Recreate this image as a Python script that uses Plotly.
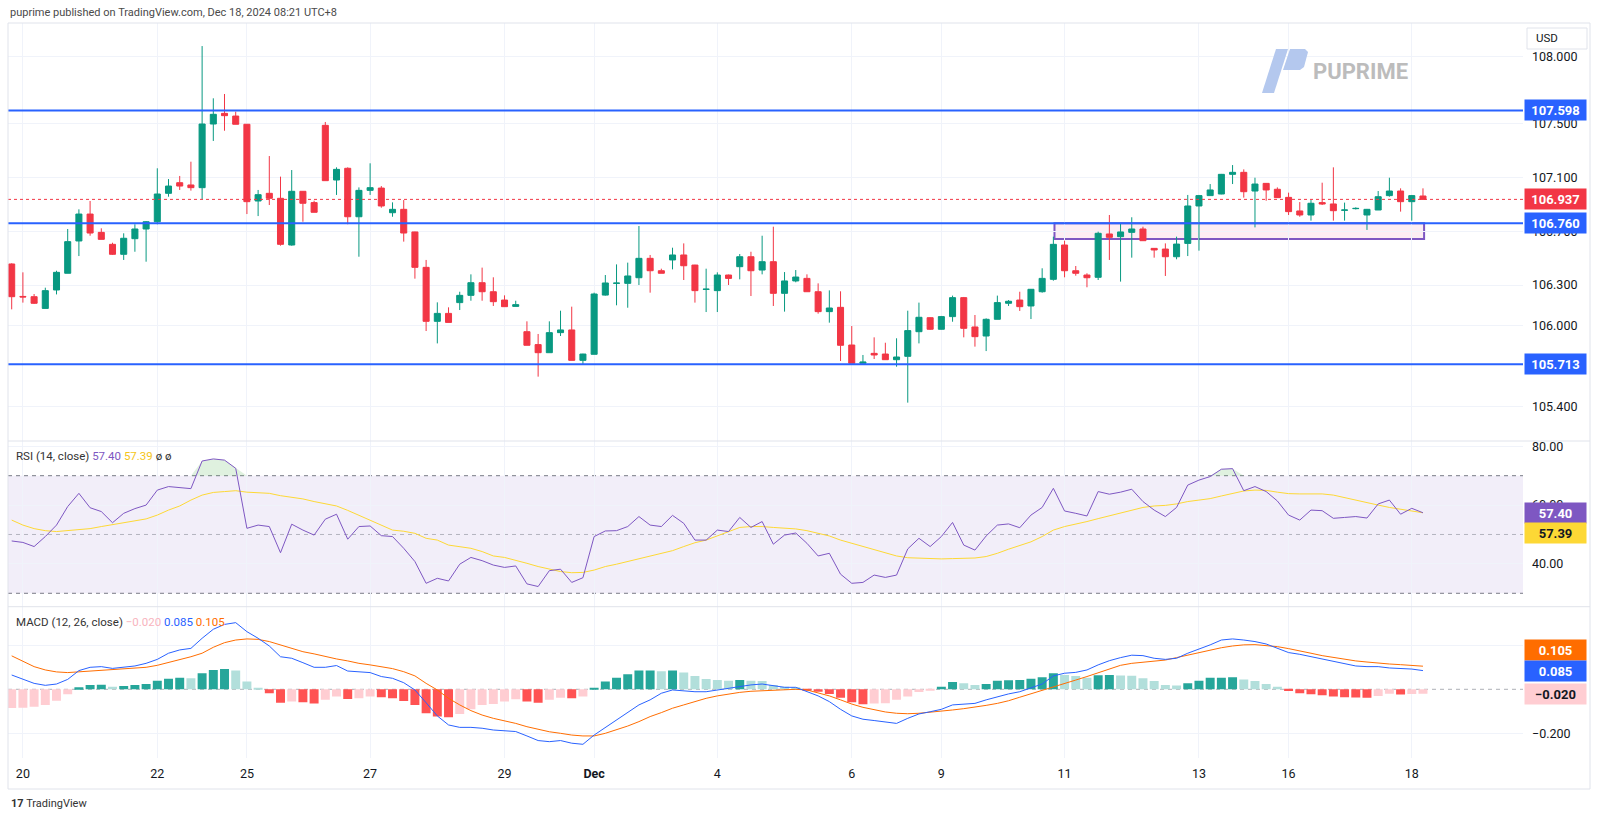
import numpy as np
import plotly.graph_objects as go

# 4h candles, Nov 19 -> Dec 18 (index = candle number)
opens = [106.457, 106.216, 106.214, 106.127, 106.264, 106.388, 106.628, 106.828, 106.692, 106.603,
         106.529, 106.645, 106.717, 106.771, 106.982, 107.061, 107.044, 107.024, 107.497, 107.576,
         107.556, 107.495, 106.925, 106.982, 106.945, 106.598, 106.997, 106.913, 107.487, 107.081,
         107.168, 106.808, 107.004, 107.021, 106.838, 106.863, 106.695, 106.432, 106.031, 106.090,
         106.170, 106.224, 106.318, 106.251, 106.189, 106.142, 105.954, 105.858, 105.798, 105.947,
         105.967, 105.741, 105.786, 106.226, 106.313, 106.313, 106.355, 106.499, 106.407, 106.487,
         106.524, 106.449, 106.268, 106.259, 106.375, 106.437, 106.511, 106.412, 106.474, 106.239,
         106.331, 106.350, 106.251, 106.103, 106.135, 105.855, 105.719, 105.793, 105.788, 105.746,
         105.771, 105.954, 106.058, 105.972, 106.066, 106.207, 105.989, 105.922, 106.046, 106.165,
         106.189, 106.145, 106.251, 106.343, 106.598, 106.407, 106.375, 106.358, 106.680, 106.660,
         106.692, 106.717, 106.573, 106.568, 106.511, 106.610, 106.888, 106.965, 106.977, 107.123,
         107.138, 106.999, 107.056, 107.012, 106.952, 106.851, 106.821, 106.913, 106.903, 106.856,
         106.868, 106.821, 106.858, 106.965, 106.999, 106.920, 106.962]
highs = [106.462, 106.395, 106.234, 106.281, 106.407, 106.717, 106.863, 106.925, 106.722, 106.615,
         106.685, 106.752, 106.776, 107.168, 107.088, 107.111, 107.217, 108.076, 107.688, 107.720,
         107.589, 107.497, 107.007, 107.259, 107.106, 107.155, 106.999, 106.927, 107.512, 107.175,
         107.175, 107.026, 107.205, 107.036, 106.915, 106.932, 106.697, 106.487, 106.172, 106.135,
         106.251, 106.380, 106.430, 106.358, 106.224, 106.184, 106.031, 105.937, 106.031, 106.110,
         106.140, 105.790, 106.244, 106.375, 106.454, 106.467, 106.739, 106.524, 106.422, 106.578,
         106.610, 106.451, 106.422, 106.395, 106.378, 106.531, 106.548, 106.667, 106.734, 106.397,
         106.412, 106.380, 106.313, 106.261, 106.254, 105.996, 105.781, 105.912, 105.872, 105.905,
         106.110, 106.170, 106.061, 106.071, 106.222, 106.212, 106.078, 106.053, 106.222, 106.189,
         106.251, 106.271, 106.425, 106.660, 106.630, 106.442, 106.388, 106.697, 106.821, 106.759,
         106.804, 106.734, 106.575, 106.610, 106.660, 106.970, 106.970, 107.051, 107.126, 107.192,
         107.160, 107.098, 107.058, 107.026, 106.987, 106.917, 106.932, 107.061, 107.175, 106.913,
         106.878, 106.866, 106.999, 107.098, 107.019, 106.970, 107.019]
lows = [106.120, 106.170, 106.160, 106.127, 106.231, 106.388, 106.516, 106.667, 106.640, 106.524,
        106.487, 106.548, 106.474, 106.752, 106.957, 107.007, 107.002, 106.937, 107.371, 107.447,
        107.495, 106.828, 106.813, 106.895, 106.593, 106.593, 106.771, 106.841, 107.076, 106.970,
        106.752, 106.511, 106.970, 106.875, 106.808, 106.623, 106.348, 105.959, 105.867, 106.023,
        106.115, 106.184, 106.184, 106.145, 106.140, 106.142, 105.853, 105.620, 105.798, 105.922,
        105.741, 105.707, 105.786, 106.222, 106.150, 106.132, 106.301, 106.244, 106.388, 106.417,
        106.338, 106.170, 106.100, 106.100, 106.301, 106.343, 106.219, 106.380, 106.145, 106.103,
        106.321, 106.251, 106.088, 106.021, 105.736, 105.719, 105.719, 105.751, 105.746, 105.694,
        105.427, 105.867, 105.967, 105.970, 106.028, 105.912, 105.843, 105.810, 106.046, 106.145,
        106.108, 106.048, 106.244, 106.333, 106.358, 106.370, 106.284, 106.338, 106.487, 106.326,
        106.504, 106.630, 106.504, 106.368, 106.492, 106.516, 106.556, 106.965, 106.975, 107.051,
        106.950, 106.729, 106.927, 106.948, 106.821, 106.808, 106.779, 106.895, 106.779, 106.779,
        106.862, 106.710, 106.858, 106.957, 106.846, 106.779, 106.935]
closes = [106.214, 106.212, 106.165, 106.259, 106.395, 106.623, 106.828, 106.687, 106.640, 106.529,
          106.648, 106.717, 106.771, 106.977, 107.036, 107.036, 107.024, 107.497, 107.569, 107.559,
          107.495, 106.920, 106.972, 106.945, 106.603, 106.997, 106.908, 106.841, 107.076, 107.160,
          106.808, 107.004, 107.024, 106.888, 106.863, 106.687, 106.432, 106.031, 106.090, 106.023,
          106.224, 106.318, 106.251, 106.177, 106.140, 106.155, 105.853, 105.798, 105.947, 105.967,
          105.741, 105.788, 106.234, 106.316, 106.315, 106.368, 106.499, 106.407, 106.388, 106.524,
          106.444, 106.259, 106.270, 106.375, 106.350, 106.511, 106.407, 106.474, 106.239, 106.331,
          106.360, 106.251, 106.103, 106.130, 105.853, 105.719, 105.729, 105.781, 105.746, 105.766,
          105.962, 106.061, 105.972, 106.066, 106.207, 105.979, 105.917, 106.046, 106.170, 106.180,
          106.140, 106.269, 106.350, 106.603, 106.407, 106.388, 106.355, 106.685, 106.655, 106.695,
          106.717, 106.630, 106.561, 106.511, 106.605, 106.888, 106.965, 107.007, 107.123, 107.138,
          106.994, 107.051, 107.007, 106.950, 106.846, 106.821, 106.908, 106.903, 106.853, 106.858,
          106.870, 106.863, 106.957, 106.999, 106.920, 106.965, 106.937]

rsi = [47.8, 47.3, 45.9, 49.3, 53.2, 59.5, 64.0, 59.1, 57.8, 54.0, 57.2, 58.8, 60.0, 65.1, 66.3,
       66.0, 65.6, 75.0, 75.7, 75.3, 72.5, 52.1, 53.2, 52.7, 43.8, 53.5, 51.5, 49.8, 55.2, 56.9,
       48.4, 52.7, 52.9, 49.6, 49.3, 45.3, 40.8, 33.4, 35.1, 34.2, 39.9, 42.2, 41.1, 39.6, 38.8,
       39.3, 33.2, 32.3, 37.7, 38.2, 33.7, 35.3, 49.3, 51.2, 51.3, 52.7, 56.1, 53.2, 52.7, 56.5,
       53.8, 48.1, 48.1, 51.5, 51.0, 55.8, 52.4, 54.4, 46.7, 49.8, 50.5, 47.0, 42.7, 43.6, 36.5,
       33.4, 33.7, 36.2, 35.4, 36.2, 45.1, 48.7, 45.9, 49.3, 54.1, 46.4, 44.7, 49.5, 53.2, 53.6,
       52.3, 56.6, 59.2, 65.7, 58.0, 57.2, 56.3, 64.6, 63.7, 64.4, 65.4, 61.2, 58.3, 56.1, 59.2,
       66.8, 68.5, 69.7, 72.2, 72.4, 64.9, 66.3, 64.6, 61.4, 56.6, 54.9, 58.3, 58.1, 55.5, 55.8,
       56.1, 55.6, 60.4, 61.7, 56.9, 58.9, 57.40]
rsi_ma = [54.9, 53.2, 52.0, 51.3, 51.0, 51.3, 51.5, 52.0, 52.7, 53.3, 53.9, 54.6, 55.3, 56.6, 58.3,
          59.7, 61.7, 63.4, 64.3, 64.6, 64.9, 64.4, 64.1, 64.0, 63.2, 62.6, 62.1, 61.2, 60.4, 59.7,
          58.2, 56.5, 54.9, 53.2, 51.5, 51.1, 50.4, 48.7, 48.1, 46.4, 45.9, 45.3, 44.2, 42.7, 42.2,
          41.3, 40.2, 39.1, 38.2, 37.4, 37.0, 37.1, 37.9, 39.1, 39.9, 40.8, 41.6, 42.5, 43.4, 44.5,
          45.9, 47.2, 48.1, 49.5, 51.0, 52.4, 52.7, 52.7, 52.4, 52.2, 51.9, 51.3, 50.4, 49.5, 48.1,
          47.0, 45.9, 44.7, 43.8, 42.7, 42.1, 41.9, 41.7, 41.7, 41.8, 41.9, 42.0, 42.5, 43.6, 45.0,
          46.2, 47.5, 49.3, 51.5, 52.7, 53.5, 54.4, 55.4, 56.3, 57.2, 58.3, 59.2, 59.7, 59.9, 60.4,
          61.2, 61.7, 62.2, 63.1, 64.0, 64.8, 65.1, 65.0, 64.4, 63.9, 63.8, 63.8, 63.8, 63.4, 62.5,
          61.7, 60.8, 60.0, 59.2, 58.6, 58.0, 57.39]

macd = [0.065, 0.045, 0.027, 0.018, 0.024, 0.045, 0.085, 0.100, 0.103, 0.095, 0.100, 0.106, 0.118,
        0.136, 0.164, 0.179, 0.186, 0.232, 0.273, 0.295, 0.303, 0.262, 0.232, 0.197, 0.148, 0.141,
        0.121, 0.100, 0.100, 0.108, 0.083, 0.080, 0.076, 0.058, 0.050, 0.030, -0.003, -0.061, -0.121,
        -0.162, -0.173, -0.173, -0.177, -0.185, -0.188, -0.192, -0.212, -0.233, -0.238, -0.233,
        -0.245, -0.250, -0.208, -0.173, -0.139, -0.106, -0.071, -0.048, -0.018, -0.003, -0.008,
        -0.011, -0.011, -0.003, 0.005, 0.015, 0.020, 0.024, 0.015, 0.009, 0.009, -0.011, -0.030,
        -0.056, -0.091, -0.121, -0.136, -0.142, -0.147, -0.155, -0.132, -0.112, -0.102, -0.091,
        -0.071, -0.068, -0.064, -0.048, -0.033, -0.021, -0.011, 0.005, 0.024, 0.061, 0.073, 0.077,
        0.088, 0.111, 0.130, 0.144, 0.155, 0.153, 0.141, 0.136, 0.141, 0.164, 0.182, 0.202, 0.224,
        0.229, 0.224, 0.217, 0.206, 0.186, 0.167, 0.159, 0.148, 0.136, 0.126, 0.115, 0.106, 0.103,
        0.103, 0.097, 0.095, 0.092, 0.085]
signal = [0.152, 0.126, 0.103, 0.088, 0.079, 0.076, 0.079, 0.083, 0.088, 0.088, 0.091, 0.094, 0.100,
          0.109, 0.121, 0.133, 0.148, 0.164, 0.191, 0.212, 0.224, 0.229, 0.227, 0.217, 0.202, 0.187,
          0.171, 0.161, 0.148, 0.138, 0.129, 0.118, 0.111, 0.103, 0.094, 0.080, 0.061, 0.027, -0.003,
          -0.041, -0.071, -0.097, -0.117, -0.132, -0.142, -0.155, -0.170, -0.182, -0.193, -0.200,
          -0.208, -0.212, -0.212, -0.200, -0.185, -0.167, -0.147, -0.124, -0.106, -0.086, -0.071,
          -0.056, -0.041, -0.030, -0.021, -0.014, -0.009, -0.006, -0.003, -0.002, 0.000, -0.003,
          -0.015, -0.030, -0.048, -0.067, -0.082, -0.094, -0.103, -0.109, -0.111, -0.109, -0.105,
          -0.098, -0.094, -0.088, -0.082, -0.073, -0.064, -0.052, -0.036, -0.021, -0.003, 0.012,
          0.027, 0.042, 0.058, 0.076, 0.094, 0.109, 0.118, 0.123, 0.127, 0.133, 0.144, 0.155, 0.167,
          0.179, 0.189, 0.197, 0.202, 0.203, 0.200, 0.194, 0.185, 0.176, 0.164, 0.153, 0.144, 0.135,
          0.129, 0.124, 0.118, 0.115, 0.112, 0.109, 0.105]
hist = [-0.085, -0.084, -0.079, -0.071, -0.052, -0.023, 0.009, 0.020, 0.021, 0.012, 0.015, 0.020,
        0.024, 0.039, 0.048, 0.053, 0.050, 0.073, 0.088, 0.092, 0.085, 0.035, 0.006, -0.018, -0.061,
        -0.056, -0.059, -0.064, -0.048, -0.033, -0.044, -0.041, -0.033, -0.036, -0.041, -0.053,
        -0.071, -0.109, -0.124, -0.127, -0.112, -0.091, -0.071, -0.067, -0.056, -0.045, -0.056,
        -0.061, -0.048, -0.038, -0.041, -0.033, 0.006, 0.035, 0.052, 0.068, 0.085, 0.086, 0.082,
        0.085, 0.076, 0.061, 0.047, 0.042, 0.039, 0.042, 0.039, 0.038, 0.020, 0.012, 0.009, -0.005,
        -0.011, -0.021, -0.038, -0.059, -0.068, -0.064, -0.063, -0.048, -0.033, -0.012, -0.003,
        0.012, 0.033, 0.027, 0.020, 0.024, 0.039, 0.041, 0.042, 0.048, 0.055, 0.073, 0.065, 0.061,
        0.052, 0.064, 0.065, 0.063, 0.062, 0.050, 0.038, 0.020, 0.017, 0.027, 0.039, 0.052, 0.053,
        0.055, 0.045, 0.038, 0.024, 0.012, -0.008, -0.018, -0.023, -0.027, -0.033, -0.036, -0.037,
        -0.038, -0.030, -0.020, -0.024, -0.021, -0.020]

date_ticks = [1, 13, 21, 32, 44, 52, 63, 75, 83, 94, 106, 114, 125]
date_labels = ['20', '22', '25', '27', '29', '<b>Dec</b>', '4', '6', '9', '11', '13', '16', '18']
price_ticks = [105.4, 106.0, 106.3, 106.7, 107.1, 107.5, 108.0]
rsi_ticks = [40, 60, 80]
macd_ticks = [-0.2, 0.2]

levels = [107.598, 106.760, 105.713]
zone_low, zone_high = 106.642, 106.760
zone_start, zone_end = 93.1, 126.1

x = list(range(len(closes)))

# plot box in page pixels
L, R, T, B = 8, 1523, 23, 758


def px(v):
    return (v - L) / (R - L)


def py(v):
    return (B - v) / (B - T)


def fmt(v, d):
    return f'{v:.{d}f}'.replace('-', '\u2212')


GRID = '#f0f3fa'
BORDER = '#e0e3eb'
TXT = '#131722'
FONT = 'Roboto, sans-serif'

fig = go.Figure()

fig.add_trace(go.Candlestick(
    x=x, open=opens, high=highs, low=lows, close=closes,
    increasing=dict(line=dict(color='#089981', width=1), fillcolor='#089981'),
    decreasing=dict(line=dict(color='#F23645', width=1), fillcolor='#F23645'),
    whiskerwidth=0, xaxis='x', yaxis='y', hoverinfo='skip'))

# RSI pane
over = np.maximum(np.array(rsi), 70)
fig.add_trace(go.Scatter(x=x, y=[70] * len(x), mode='lines', line=dict(width=0),
                         xaxis='x', yaxis='y2', hoverinfo='skip'))
fig.add_trace(go.Scatter(x=x, y=over, mode='lines', line=dict(width=0), fill='tonexty',
                         fillcolor='rgba(76,175,80,0.18)', xaxis='x', yaxis='y2', hoverinfo='skip'))
fig.add_trace(go.Scatter(x=x, y=rsi_ma, mode='lines', line=dict(color='#FDD835', width=1),
                         xaxis='x', yaxis='y2', hoverinfo='skip'))
fig.add_trace(go.Scatter(x=x, y=rsi, mode='lines', line=dict(color='#7E57C2', width=1),
                         xaxis='x', yaxis='y2', hoverinfo='skip'))

# MACD pane
colors = []
for i, h in enumerate(hist):
    prev = hist[i - 1] if i else h
    if h >= 0:
        colors.append('#26A69A' if h > prev else '#B2DFDB')
    else:
        colors.append('#FF5252' if h < prev else '#FFCDD2')
fig.add_trace(go.Bar(x=x, y=hist, marker=dict(color=colors, line=dict(width=0)),
                     xaxis='x', yaxis='y3', hoverinfo='skip'))
fig.add_trace(go.Scatter(x=x, y=signal, mode='lines', line=dict(color='#FF6D00', width=1),
                         xaxis='x', yaxis='y3', hoverinfo='skip'))
fig.add_trace(go.Scatter(x=x, y=macd, mode='lines', line=dict(color='#2962FF', width=1),
                         xaxis='x', yaxis='y3', hoverinfo='skip'))

shapes = []
shapes.append(dict(type='rect', xref='x', yref='y', x0=zone_start, x1=zone_end,
                   y0=zone_low, y1=zone_high, line=dict(color='#7E57C2', width=2),
                   fillcolor='rgba(233,30,99,0.08)', layer='below'))
for lv in levels:
    shapes.append(dict(type='line', xref='paper', x0=0, x1=1, yref='y', y0=lv, y1=lv,
                       line=dict(color='#2962FF', width=2)))
shapes.append(dict(type='line', xref='paper', x0=0, x1=1, yref='y', y0=closes[-1], y1=closes[-1],
                   line=dict(color='#F23645', width=1, dash='dot')))
shapes.append(dict(type='rect', xref='paper', x0=0, x1=1, yref='y2', y0=30, y1=70,
                   line=dict(width=0), fillcolor='rgba(126,87,194,0.1)', layer='below'))
for lv, c in [(70, '#787B86'), (50, 'rgba(120,123,134,0.5)'), (30, '#787B86')]:
    shapes.append(dict(type='line', xref='paper', x0=0, x1=1, yref='y2', y0=lv, y1=lv,
                       line=dict(color=c, width=1, dash='4px,4px'), layer='below'))
shapes.append(dict(type='line', xref='paper', x0=0, x1=1, yref='y3', y0=0, y1=0,
                   line=dict(color='rgba(120,123,134,0.6)', width=1, dash='4px,4px'), layer='below'))
# pane separators and frame
for yy in [441, 606.7]:
    shapes.append(dict(type='line', xref='paper', yref='paper', x0=px(8), x1=px(1590),
                       y0=py(yy), y1=py(yy), line=dict(color=BORDER, width=1)))
shapes.append(dict(type='rect', xref='paper', yref='paper', x0=px(8), x1=px(1590),
                   y0=py(789), y1=py(23), line=dict(color=BORDER, width=1)))
shapes.append(dict(type='rect', xref='paper', yref='paper', x0=px(1527), x1=px(1587),
                   y0=py(49), y1=py(28), line=dict(color=BORDER, width=1), fillcolor='white'))


def path(points):
    s = 'M ' + ' L '.join(f'{px(a):.5f},{py(b):.5f}' for a, b in points) + ' Z'
    return s


shapes.append(dict(type='path', xref='paper', yref='paper', line=dict(width=0), fillcolor='#b4c8ee',
                   path=path([(1262, 93), (1274, 93), (1288, 49), (1276, 49)])))
shapes.append(dict(type='path', xref='paper', yref='paper', line=dict(width=0), fillcolor='#b4c8ee',
                   path=path([(1290, 49), (1305, 49), (1308, 52), (1304, 67), (1300, 70), (1283, 70)])))

ann = []
ann.append(dict(text='puprime published on TradingView.com, Dec 18, 2024 08:21 UTC+8',
                xref='paper', yref='paper', x=px(8), y=py(13), xanchor='left', yanchor='middle',
                showarrow=False, font=dict(size=11, color='#4a4a4a')))
ann.append(dict(text='<b>17</b> TradingView', xref='paper', yref='paper', x=px(9), y=py(803),
                xanchor='left', yanchor='middle', showarrow=False, font=dict(size=11, color='#333')))
ann.append(dict(text='USD', xref='paper', yref='paper', x=px(1534), y=py(38.5), xanchor='left',
                yanchor='middle', showarrow=False, font=dict(size=11.5, color=TXT)))
ann.append(dict(text='<b>PUPRIME</b>', xref='paper', yref='paper', x=px(1311), y=py(71),
                xanchor='left', yanchor='middle', showarrow=False,
                font=dict(size=22, color='#bcbcbc', family='Roboto, sans-serif')))


def tag(val, yref, bg, fg, text, yshift=0):
    return dict(text=f'<b>{text}</b>', xref='paper', x=px(1524), xanchor='left', yref=yref, y=val,
                yanchor='middle', yshift=yshift, showarrow=False, bgcolor=bg, width=58, height=17,
                borderpad=1.5, align='center', font=dict(size=13, color=fg))


for lv in levels:
    ann.append(tag(lv, 'y', '#2962FF', 'white', f'{lv:.3f}'))
ann.append(tag(closes[-1], 'y', '#F23645', 'white', f'{closes[-1]:.3f}'))
ann.append(tag(rsi[-1], 'y2', '#7E57C2', 'white', fmt(rsi[-1], 2)))
ann.append(tag(rsi_ma[-1], 'y2', '#FDD835', TXT, fmt(rsi_ma[-1], 2), yshift=-20))
ann.append(tag(signal[-1], 'y3', '#FF6D00', 'white', fmt(signal[-1], 3), yshift=16))
ann.append(tag(macd[-1], 'y3', '#2962FF', 'white', fmt(macd[-1], 3)))
ann.append(tag(hist[-1], 'y3', '#FFCDD2', TXT, fmt(hist[-1], 3)))

ann.append(dict(text=(f"RSI (14, close) <span style='color:#7E57C2'>{fmt(rsi[-1], 2)}</span> "
                      f"<span style='color:#F5C518'>{fmt(rsi_ma[-1], 2)}</span> ø ø"),
                xref='paper', yref='paper', x=px(14), y=py(455.5), xanchor='left', yanchor='middle',
                showarrow=False, font=dict(size=11.5, color='#333')))
ann.append(dict(text=(f"MACD (12, 26, close) <span style='color:#F8B4BE'>{fmt(hist[-1], 3)}</span> "
                      f"<span style='color:#2962FF'>{fmt(macd[-1], 3)}</span> "
                      f"<span style='color:#FF6D00'>{fmt(signal[-1], 3)}</span>"),
                xref='paper', yref='paper', x=px(14), y=py(621.5), xanchor='left', yanchor='middle',
                showarrow=False, font=dict(size=11.5, color='#333')))

yax = dict(side='right', anchor='x', gridcolor=GRID, gridwidth=1, zeroline=False, showline=False,
           ticks='', ticklabelstandoff=8, tickfont=dict(size=12.5, color=TXT), automargin=False,
           fixedrange=True)

fig.update_layout(
    width=1600, height=819,
    margin=dict(l=L, r=1600 - R, t=T, b=819 - B),
    paper_bgcolor='white', plot_bgcolor='white',
    showlegend=False, hovermode=False,
    font=dict(family=FONT, size=12, color=TXT),
    bargap=0.2, boxgap=0.3, boxgroupgap=0.23,
    xaxis=dict(domain=[0, 1], range=[-0.33, 134.93], anchor='y3', tickmode='array',
               tickvals=date_ticks, ticktext=date_labels, showgrid=True, gridcolor=GRID,
               zeroline=False, showline=False, ticks='', ticklabelstandoff=6,
               tickfont=dict(size=12.5, color=TXT), rangeslider=dict(visible=False),
               automargin=False, fixedrange=True),
    yaxis=dict(yax, domain=[py(441), 1], range=[105.1419, 108.2474], tickmode='array',
               tickvals=price_ticks, ticktext=[f'{v:.3f}' for v in price_ticks]),
    yaxis2=dict(yax, domain=[py(606.7), py(441)], range=[25.44, 81.80], tickmode='array',
                tickvals=rsi_ticks, ticktext=[f'{v:.2f}' for v in rsi_ticks]),
    yaxis3=dict(yax, domain=[0, py(606.7)], range=[-0.3123, 0.3755], tickmode='array',
                tickvals=macd_ticks, ticktext=[fmt(v, 3) for v in macd_ticks]),
    shapes=shapes, annotations=ann,
)

fig.write_html("out.html", config={'displayModeBar': False},
               post_script="document.body.style.margin='0';")
